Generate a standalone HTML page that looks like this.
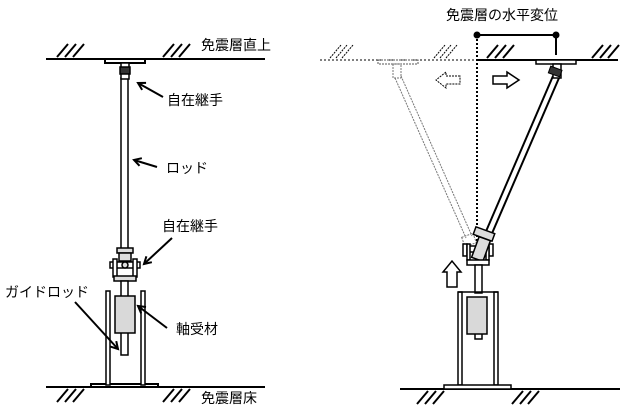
<!DOCTYPE html>
<html><head><meta charset="utf-8"><style>
html,body{margin:0;padding:0;background:#fff;}
svg{display:block;}
text{font-family:"Liberation Sans","Noto Sans CJK JP",sans-serif;font-size:14px;fill:#000;}
</style></head><body>
<svg width="631" height="417" viewBox="0 0 631 417" xmlns="http://www.w3.org/2000/svg">
<defs>
<marker id="ah" markerWidth="10" markerHeight="10" refX="8" refY="5" orient="auto" markerUnits="userSpaceOnUse">
<path d="M1,1 L8,5 L1,9" fill="none" stroke="#000" stroke-width="2"/>
</marker>
</defs>
<!-- LEFT -->
<g stroke="#000" stroke-width="2" fill="none">
<line x1="46" y1="59" x2="265" y2="59"/>
<path d="M57,57 L68,44 M65,57 L76,44 M73,57 L84,44 M163,57 L174,44 M171,57 L182,44 M179,57 L190,44"/>
<rect x="105" y="59" width="40" height="4" fill="#fff"/>
<line x1="46" y1="387" x2="265" y2="387"/>
<path d="M57,402 L68,389 M65,402 L76,389 M73,402 L84,389 M163,402 L174,389 M171,402 L182,389 M179,402 L190,389"/>
<rect x="91" y="384" width="67" height="3" fill="#fff"/>
</g>
<g stroke="#000" stroke-width="1.5">
<rect x="121" y="78" width="7" height="172" fill="#fff"/>
<rect x="121" y="63" width="8" height="16" fill="#fff"/>
<rect x="120" y="67" width="10" height="7" fill="#333"/>
<!-- lower joint -->
<rect x="117" y="248" width="16" height="5" fill="#ddd"/>
<rect x="119" y="253" width="12" height="8" fill="#ddd"/>
<rect x="110" y="262" width="30" height="6" fill="#fff"/>
<rect x="113" y="259" width="4" height="18" fill="#fff"/>
<rect x="133" y="259" width="4" height="18" fill="#fff"/>
<circle cx="125" cy="265" r="3" fill="#ddd"/>
<rect x="114" y="276" width="22" height="5" fill="#ddd"/>
<rect x="121" y="281" width="7" height="16" fill="#fff"/>
<!-- frame -->
<rect x="106" y="291" width="4" height="94" fill="#fff"/>
<rect x="141" y="291" width="4" height="94" fill="#fff"/>
<rect x="121" y="330" width="7" height="25" fill="#fff"/>
<rect x="115" y="296" width="20" height="37" fill="#d9d9d9"/>
</g>
<g stroke="#000" stroke-width="2" marker-end="url(#ah)">
<line x1="163" y1="97" x2="138" y2="83"/>
<line x1="157" y1="167" x2="134" y2="160"/>
<line x1="172" y1="238" x2="144" y2="264"/>
<line x1="75" y1="302" x2="118" y2="349"/>
<line x1="167" y1="328" x2="138" y2="306"/>
</g>
<text x="201" y="50">免震層直上</text>
<text x="167" y="105">自在継手</text>
<text x="166" y="173">ロッド</text>
<text x="162" y="231">自在継手</text>
<text x="5" y="297">ガイドロッド</text>
<text x="176" y="334">軸受材</text>
<text x="201" y="403">免震層床</text>

<!-- RIGHT -->
<g stroke="#000" fill="none">
<line x1="320" y1="60" x2="477" y2="60" stroke-width="1" stroke-dasharray="2,2"/>
<line x1="477" y1="60" x2="618" y2="60" stroke-width="2"/>
<path d="M330,58 L341,45 M336,58 L347,45 M342,58 L353,45 M434,58 L445,45 M440,58 L451,45 M446,58 L457,45" stroke-width="1" stroke-dasharray="2,1"/>
<path d="M487,58 L498,45 M495,58 L506,45 M503,58 L514,45 M592,58 L603,45 M600,58 L611,45 M608,58 L619,45" stroke-width="2"/>
<line x1="477" y1="35" x2="477" y2="268" stroke-width="2" stroke-dasharray="2,2"/>
<line x1="477" y1="35" x2="556" y2="35" stroke-width="2"/>
<line x1="556" y1="35" x2="556" y2="55" stroke-width="2"/>
<rect x="378" y="60" width="40" height="4" stroke-width="1" stroke-dasharray="2,1" stroke="#555"/>
<rect x="536" y="60" width="40" height="4" stroke-width="1.5" fill="#fff"/>
<!-- ghost rod -->
<g stroke="#777" stroke-width="1" stroke-dasharray="2,1">
<line x1="395" y1="78" x2="466" y2="238"/>
<line x1="401" y1="76" x2="472" y2="236"/>
<rect x="393" y="64" width="8" height="14"/>
<rect x="463" y="235" width="12" height="10" transform="rotate(-20 469 240)"/>
</g>
<!-- real rod -->
<g stroke="#000" stroke-width="2">
<line x1="553" y1="76" x2="484" y2="236"/>
<line x1="559" y1="78" x2="490" y2="238"/>
</g>
<rect x="553" y="64" width="8" height="14" stroke-width="1.5" fill="#fff"/>
<rect x="549" y="68" width="12" height="7" fill="#333" stroke-width="1" transform="rotate(20 555 72)"/>
<!-- arrows -->
<path d="M460,76 L446,76 L446,72 L436,80 L446,88 L446,84 L460,84 Z" stroke-width="1" stroke-dasharray="2,1"/>
<path d="M493,76 L507,76 L507,72 L519,80 L507,88 L507,84 L493,84 Z" stroke-width="1.5" fill="#fff"/>
<path d="M447,287 L447,272 L443,272 L452,261 L461,272 L457,272 L457,287 Z" stroke-width="1.5" fill="#fff"/>
<!-- lower joint right -->
<rect x="466" y="246" width="24" height="6" stroke-width="1.5" fill="#fff"/>
<rect x="463" y="244" width="4" height="12" stroke-width="1.5" fill="#fff"/>
<rect x="489" y="244" width="4" height="12" stroke-width="1.5" fill="#fff"/>
<rect x="467" y="244" width="3" height="16" stroke-width="1.5" fill="#fff"/>
<rect x="486" y="244" width="3" height="16" stroke-width="1.5" fill="#fff"/>
<rect x="475" y="238" width="12" height="22" stroke-width="1.5" fill="#ddd" transform="rotate(20 481 249)"/>
<rect x="474" y="230" width="20" height="8" stroke-width="1.5" fill="#ddd" transform="rotate(20 484 234)"/>
<rect x="467" y="260" width="22" height="5" stroke-width="1.5" fill="#fff"/>
<rect x="475" y="265" width="7" height="28" stroke-width="1.5" fill="#fff"/>
<!-- frame right -->
<rect x="458" y="292" width="4" height="93" stroke-width="1.5" fill="#fff"/>
<rect x="494" y="292" width="4" height="93" stroke-width="1.5" fill="#fff"/>
<line x1="458" y1="292" x2="498" y2="292" stroke-width="1.5"/>
<rect x="475" y="333" width="7" height="6" stroke-width="1.5" fill="#fff"/>
<rect x="467" y="297" width="20" height="37" stroke-width="1.5" fill="#d9d9d9"/>
<line x1="400" y1="389" x2="620" y2="389" stroke-width="2"/>
<rect x="444" y="385" width="67" height="4" stroke-width="1.5" fill="#fff"/>
<path d="M417,404 L428,391 M425,404 L436,391 M433,404 L444,391 M512,404 L523,391 M520,404 L531,391 M528,404 L539,391" stroke-width="2"/>
</g>
<circle cx="477" cy="35" r="3.5" fill="#000"/>
<circle cx="556" cy="35" r="3.5" fill="#000"/>
<text x="446" y="20">免震層の水平変位</text>
</svg>
</body></html>
